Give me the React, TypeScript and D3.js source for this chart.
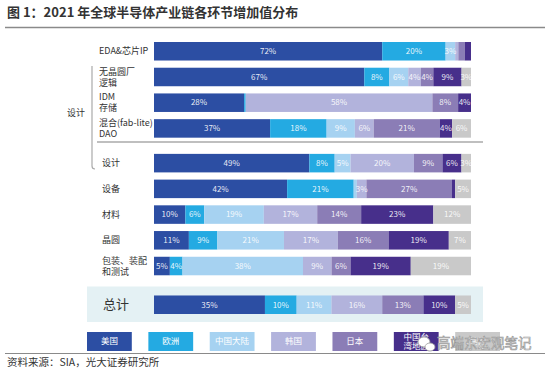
import * as d3 from "d3";
import { useEffect, useRef } from "react";

const categories = ["EDA&芯片IP", "无晶圆厂逻辑", "IDM存储", "混合DAO", "设计", "设备", "材料", "晶圆", "包装测试", "总计"];
const categoryLines = [["EDA&芯片IP"], ["无晶圆厂", "逻辑"], ["IDM", "存储"], ["混合(fab-lite)", "DAO"], ["设计"], ["设备"], ["材料"], ["晶圆"], ["包装、装配", "和测试"], ["总计"]];
const regions = ["美国", "欧洲", "中国大陆", "韩国", "日本", "中国台湾地区", "其他"];
const legendLines = [["美国"], ["欧洲"], ["中国大陆"], ["韩国"], ["日本"], ["中国台", "湾地区"], ["其他"]];

const usValues = [72, 67, 28, 37, 49, 42, 10, 11, 5, 35];
const euValues = [20, 8, 0.5, 18, 8, 21, 6, 9, 4, 10];
const cnValues = [3, 6, 0, 9, 5, 1, 19, 21, 38, 11];
const krValues = [1, 4, 58, 6, 20, 3, 17, 17, 9, 16];
const jpValues = [2, 4, 8, 21, 9, 27, 14, 16, 6, 13];
const twValues = [2, 9, 4, 4, 6, 1, 23, 19, 19, 10];
const otherValues = [0, 3, 0, 6, 3, 5, 12, 7, 19, 5];

const colors = ["#2c4ea3", "#24aae2", "#a6d2f1", "#b2b3dc", "#8b7db6", "#472f8b", "#c9c9c9"];
const FONT = "'Noto Sans CJK SC', 'Noto Sans', sans-serif";

const App = () => {
  const ref = useRef<SVGSVGElement>(null);

  useEffect(() => {
    const svg = d3.select(ref.current);
    svg.selectAll("*").remove();
    const width = 550;
    const height = 371;
    svg.attr("width", width).attr("height", height);

    const series = [usValues, euValues, cnValues, krValues, jpValues, twValues, otherValues];
    const table = categories.map((c, i) => {
      const row: any = { name: c };
      regions.forEach((r, j) => (row[r] = series[j][i]));
      return row;
    });

    const stack = d3.stack<any>().keys(regions).offset(d3.stackOffsetExpand);
    const stacked = stack(table);

    const xScale = d3.scaleLinear().domain([0, 1]).range([154, 471]);
    const yBand = d3.scaleBand().domain(categories).range([42, 292]).paddingInner(0.28).paddingOuter(0);
    // extra space between groups
    const groupGap = (c: string) => {
      const i = categories.indexOf(c);
      if (i >= 9) return 22;
      if (i >= 4) return 9;
      return 0;
    };
    const y = (c: string) => (yBand(c) ?? 0) + groupGap(c);
    const bh = yBand.bandwidth();

    // title
    svg.append("text").attr("x", 7).attr("y", 17).attr("font-family", FONT).attr("font-size", 13)
      .attr("font-weight", 700).attr("fill", "#333").text("图 1：2021 年全球半导体产业链各环节增加值分布");
    svg.append("line").attr("x1", 5).attr("x2", 545).attr("y1", 27.5).attr("y2", 27.5)
      .attr("stroke", "#8a8a8a").attr("stroke-width", 1.5);

    // total background
    svg.append("rect").attr("x", 87).attr("y", y("总计") - 9).attr("width", 396).attr("height", bh + 17)
      .attr("fill", "#e4f1f4");

    // separator + bracket
    svg.append("line").attr("x1", 97).attr("x2", 483).attr("y1", 142).attr("y2", 142)
      .attr("stroke", "#aaa").attr("stroke-width", 1.5);
    svg.append("path").attr("d", "M92,66 L92,166 Q92,169 95,169").attr("fill", "none")
      .attr("stroke", "#aaa").attr("stroke-width", 1.2);
    svg.append("text").attr("x", 67).attr("y", 113).attr("dy", "0.35em").attr("font-family", FONT)
      .attr("font-size", 9).attr("fill", "#333").text("设计");

    // bars
    const layer = svg.selectAll("g.layer").data(stacked).enter().append("g")
      .attr("fill", (_d, i) => colors[i]);
    layer.selectAll("rect").data((d) => d).enter().append("rect")
      .attr("x", (d) => xScale(d[0]))
      .attr("y", (d) => y(d.data.name))
      .attr("width", (d) => Math.max(0, xScale(d[1]) - xScale(d[0])))
      .attr("height", bh);

    // value labels
    stacked.forEach((s) => {
      svg.append("g").selectAll("text").data(s.filter((d) => d.data[s.key] >= 3)).enter().append("text")
        .attr("x", (d) => (xScale(d[0]) + xScale(d[1])) / 2)
        .attr("y", (d) => y(d.data.name) + bh / 2)
        .attr("dy", "0.35em").attr("text-anchor", "middle").attr("font-family", FONT)
        .attr("font-size", 8).attr("fill", "#fff").attr("fill-opacity", 0.9)
        .text((d) => `${d.data[s.key]}%`);
    });

    // category labels
    categories.forEach((c, i) => {
      const lines = categoryLines[i];
      const sub = i < 4;
      const isTotal = c === "总计";
      const lx0 = sub ? 99 : isTotal ? 103 : 102;
      const t = svg.append("text")
        .attr("font-family", FONT).attr("font-size", isTotal ? 13 : 9).attr("fill", "#333");
      const cy = y(c) + bh / 2;
      lines.forEach((l, k) => {
        t.append("tspan").attr("x", lx0)
          .attr("y", cy + (k - (lines.length - 1) / 2) * 11).attr("dy", "0.35em").text(l);
      });
    });

    // legend
    const lx = d3.scaleBand().domain(regions).range([87, 500]).paddingInner(0.27).paddingOuter(0);
    const lg = svg.selectAll("g.legend").data(regions).enter().append("g")
      .attr("transform", (r) => `translate(${lx(r)},332)`);
    lg.append("rect").attr("width", lx.bandwidth()).attr("height", 19).attr("fill", (_r, i) => colors[i]);
    lg.each(function (_r, i) {
      const lines = legendLines[i];
      const t = d3.select(this).append("text").attr("text-anchor", "middle").attr("font-family", FONT)
        .attr("font-size", 8.5).attr("fill", "#fff");
      lines.forEach((l, k) => {
        t.append("tspan").attr("x", lx.bandwidth() / 2).attr("y", 9.5 + (k - (lines.length - 1) / 2) * 9)
          .attr("dy", "0.35em").text(l);
      });
    });

    // footer
    svg.append("line").attr("x1", 5).attr("x2", 545).attr("y1", 353.5).attr("y2", 353.5)
      .attr("stroke", "#8a8a8a").attr("stroke-width", 1.2);
    svg.append("text").attr("x", 7).attr("y", 366).attr("font-family", FONT).attr("font-size", 10.5)
      .attr("fill", "#333").text("资料来源：SIA，光大证券研究所");

    // watermark
    const wm = svg.append("g").attr("fill", "#fff").attr("stroke", "#9a9a9a").attr("stroke-width", 0.8);
    wm.append("ellipse").attr("cx", 424).attr("cy", 342).attr("rx", 6).attr("ry", 5);
    wm.append("ellipse").attr("cx", 430).attr("cy", 347).attr("rx", 5).attr("ry", 4);
    wm.append("text").attr("x", 437).attr("y", 348).attr("font-family", FONT).attr("font-size", 13.5)
      .attr("stroke-width", 0.7).text("高端东宏观笔记");
  }, []);

  return <svg ref={ref} style={{ position: "absolute", left: 0, top: 0, background: "#fff" }}></svg>;
};

export default App;
